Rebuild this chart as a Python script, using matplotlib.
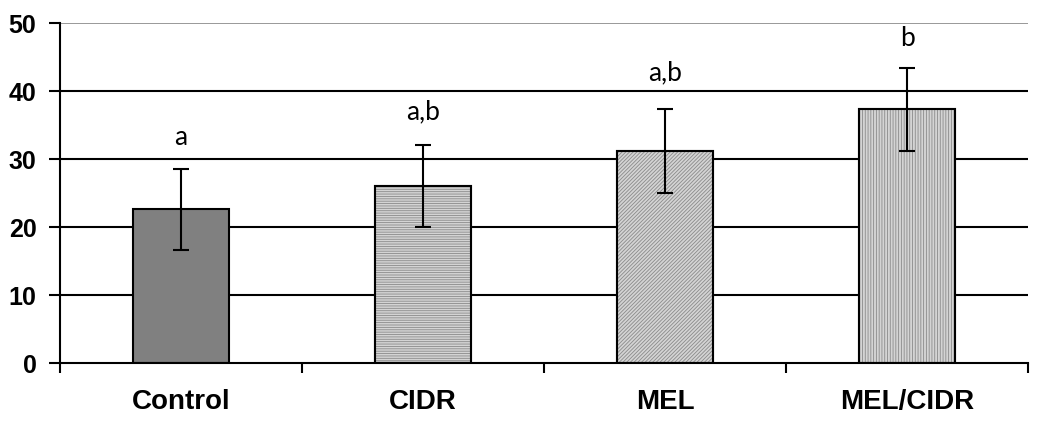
import numpy as np
import matplotlib.pyplot as plt

plt.rcParams['hatch.linewidth'] = 0.6

# values
groups = ['Control', 'CIDR', 'MEL', 'MEL/CIDR']
means = [22.6, 26.0, 31.2, 37.3]
errs = [6.0, 6.0, 6.2, 6.1]
letters = ['a', 'a,b', 'a,b', 'b']
letter_y = [32.1, 35.9, 41.6, 46.6]

faces = ['#808080', '#d4d4d4', '#d4d4d4', '#d4d4d4']
hatches = [None, '-------', '/////////', '||||||']

fig = plt.figure(figsize=(10.37, 4.23), dpi=100)
ax = fig.add_axes([0.0579, 0.1418, 0.9335, 0.8038])

x = np.arange(len(groups))
for yv in [10, 20, 30, 40]:
    ax.axhline(yv, color='black', lw=1.5, zorder=0)
ax.axhline(50, color='#888888', lw=1.2, zorder=0)

for i in range(len(groups)):
    ax.bar(x[i], means[i], width=0.4, color=faces[i], edgecolor='black',
           linewidth=1.5, hatch=hatches[i], zorder=2)
    if hatches[i]:
        ax.patches[-1].set_edgecolor('#8a8a8a')
        ax.bar(x[i], means[i], width=0.4, fill=False, edgecolor='black',
               linewidth=1.5, zorder=3)

ax.errorbar(x, means, yerr=errs, fmt='none', ecolor='black', elinewidth=1.5,
            capsize=6, capthick=1.5, zorder=4)

for i in range(len(groups)):
    ax.text(x[i], letter_y[i], letters[i], ha='center', va='baseline',
            fontsize=19, family='Lato')

ax.set_xlim(-0.5, len(groups) - 0.5)
ax.set_ylim(0, 50)
ax.set_yticks([0, 10, 20, 30, 40, 50])
ax.set_yticklabels(['0', '10', '20', '30', '40', '50'], fontsize=18,
                   fontweight='bold', family='Liberation Sans')
ax.set_xticks(np.arange(-0.5, len(groups), 1.0))
ax.set_xticklabels([])
ax.set_xticks(x, minor=True)
ax.set_xticklabels(groups, minor=True, fontsize=20, fontweight='bold',
                   family='Liberation Sans')
ax.tick_params(axis='x', which='minor', length=0, pad=19)
ax.tick_params(axis='x', which='major', length=7, width=1.5, direction='out')
ax.tick_params(axis='y', length=8, width=1.5, direction='out', pad=9)

for s in ['top', 'right']:
    ax.spines[s].set_visible(False)
ax.spines['left'].set_linewidth(1.5)
ax.spines['bottom'].set_linewidth(1.5)

fig.savefig('out.png', dpi=100)
